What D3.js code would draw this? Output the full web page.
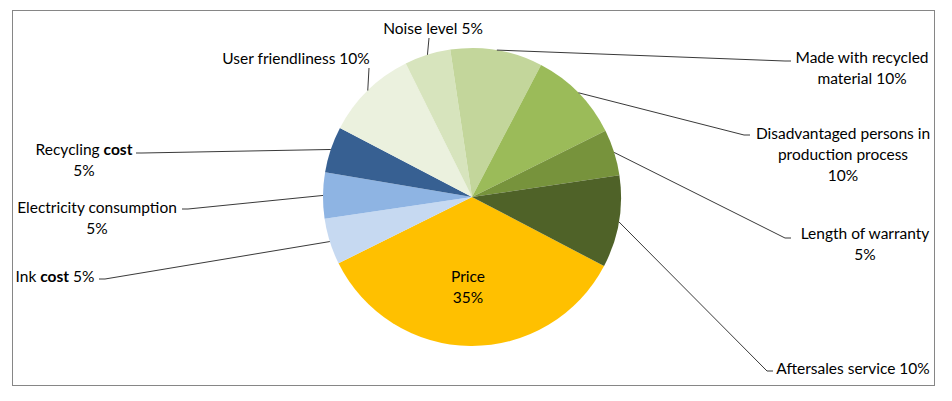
<!DOCTYPE html>
<html>
<head>
<meta charset="utf-8">
<script src="https://cdn.jsdelivr.net/npm/d3@7"></script>
<style>
  html, body { margin: 0; padding: 0; background: #fff; }
  svg { display: block; }
  text { font-family: Lato, "Open Sans", sans-serif; font-size: 15.5px; fill: #000; }
</style>
</head>
<body>
<svg id="chart" width="952" height="401"></svg>
<script>
// ---- data ----
const categories = ["Price", "Ink cost", "Electricity consumption", "Recycling cost",
  "User friendliness", "Noise level", "Made with recycled material",
  "Disadvantaged persons in production process", "Length of warranty", "Aftersales service"];
const values = [35, 5, 5, 5, 10, 5, 10, 10, 5, 10];
const colors = ["#FFC000", "#C6D9F1", "#8EB4E3", "#376092", "#EBF1DE", "#D7E4BD",
  "#C3D69B", "#9BBB59", "#77933C", "#4F6228"];
// label text lines (segments: [text, bold])
const labelLines = [
  [[["Price", false]], [["35%", false]]],
  [[["Ink ", false], ["cost", true], [" 5%", false]]],
  [[["Electricity consumption", false]], [["5%", false]]],
  [[["Recycling ", false], ["cost", true]], [["5%", false]]],
  [[["User friendliness 10%", false]]],
  [[["Noise level 5%", false]]],
  [[["Made with recycled", false]], [["material 10%", false]]],
  [[["Disadvantaged persons in", false]], [["production process", false]], [["10%", false]]],
  [[["Length of warranty", false]], [["5%", false]]],
  [[["Aftersales service 10%", false]]]
];

// ---- layout (positions of labels and leader ends) ----
const layout = [
  { cx: 468, cy: 276, leader: null },
  { cx: 55,  cy: 276, leader: [[105, 279], [99, 279]] },
  { cx: 97,  cy: 207, leader: [[188, 209], [182, 209]] },
  { cx: 84,  cy: 149, leader: [[142, 153], [136, 153]] },
  { cx: 296, cy: 58,  leader: [[369, 68]] },
  { cx: 433, cy: 28,  leader: [[429, 38]] },
  { cx: 862, cy: 57,  leader: [[785, 61], [791, 61]] },
  { cx: 843, cy: 133, leader: [[744, 135], [750, 135]] },
  { cx: 865, cy: 233, leader: [[785, 238], [791, 238]] },
  { cx: 853, cy: 368, leader: [[767, 371], [773, 371]] }
];
const lineH = 21;

const svg = d3.select("#chart");
svg.append("rect").attr("x", 12.5).attr("y", 10.5).attr("width", 922).attr("height", 375)
  .attr("fill", "#fff").attr("stroke", "#868686").attr("stroke-width", 1);

const cx = 472, cy = 197, r = 149;
const start = 117.6 * Math.PI / 180;
const pie = d3.pie().sort(null).startAngle(start).endAngle(start + 2 * Math.PI);
const arcs = pie(values);
const arc = d3.arc().innerRadius(0).outerRadius(r);

const g = svg.append("g").attr("transform", `translate(${cx},${cy})`);
g.selectAll("path").data(arcs).enter().append("path")
  .attr("d", arc).attr("fill", (d, i) => colors[i]);

// leader lines
arcs.forEach((d, i) => {
  const L = layout[i];
  if (!L.leader) return;
  const mid = (d.startAngle + d.endAngle) / 2;
  const p0 = [cx + r * Math.sin(mid), cy - r * Math.cos(mid)];
  const pts = [p0].concat(L.leader);
  svg.append("path")
    .attr("d", d3.line()(pts))
    .attr("fill", "none").attr("stroke", "#222").attr("stroke-width", 0.9);
});

// labels
labelLines.forEach((lines, i) => {
  const L = layout[i];
  lines.forEach((segs, j) => {
    const t = svg.append("text")
      .attr("x", L.cx).attr("y", L.cy + j * lineH)
      .attr("text-anchor", "middle").attr("dominant-baseline", "central");
    segs.forEach(s => {
      t.append("tspan").text(s[0]).attr("font-weight", s[1] ? "bold" : null);
    });
  });
});
</script>
</body>
</html>
